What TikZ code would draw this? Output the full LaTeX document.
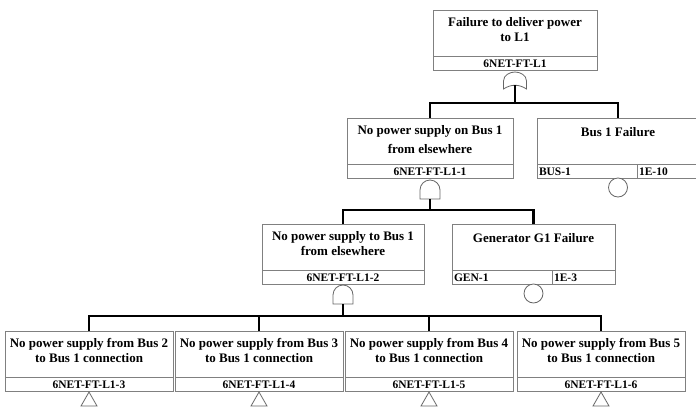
\documentclass[tikz,border=0pt]{standalone}
\usepackage{fontspec}
\setmainfont{Liberation Serif}
\usetikzlibrary{positioning}

\begin{document}
\begin{tikzpicture}[
    x=1pt, y=-1pt,
    title/.style={
        draw=gray, line width=0.9pt, fill=white,
        minimum width=#1, minimum height=46pt,
        inner sep=0pt, outer sep=0pt,
        align=center, anchor=north,
        text height=18pt, text depth=28pt,
        font=\fontsize{13}{15}\selectfont\bfseries
    },
    twoline/.style={
        text height=31pt,
        text depth=15pt
    },
    strip/.style={
        draw=gray, line width=0.9pt, fill=white,
        minimum width=#1, minimum height=14pt,
        inner sep=0pt, outer sep=0pt,
        text height=8pt, text depth=0pt,
        font=\fontsize{11.5}{13}\selectfont\bfseries
    },
    cell/.style={
        strip=0pt,
        text width=#1,
        align=left,
        inner xsep=2pt
    },
    basic/.style={
        circle,
        draw=gray!80!black,
        line width=0.8pt,
        fill=white,
        minimum size=19pt,
        inner sep=0pt,
        outer sep=0pt
    },
    gatestroke/.style={
        draw=gray!80!black,
        line width=0.8pt,
        fill=white
    },
    conn/.style={
        draw=black,
        line width=2.2pt
    },
    orgate/.pic={
        \draw[gatestroke] (-11.5,17) -- (-11.5,9)
            .. controls (-11.5,3) and (-5,0) .. (0,0)
            .. controls (5,0) and (11.5,3) .. (11.5,9) -- (11.5,17)
            .. controls (4,12) and (-4,12) .. cycle;
        \coordinate (-out) at (0,13.3);
    },
    andgate/.pic={
        \draw[gatestroke] (-10,19) -- (-10,10)
            .. controls (-10,4.5) and (-5.5,0) .. (0,0)
            .. controls (5.5,0) and (10,4.5) .. (10,10) -- (10,19) -- cycle;
        \coordinate (-out) at (0,19);
    },
    transfer/.pic={
        \draw[gatestroke] (0,0) -- (8,14) -- (-8,14) -- cycle;
    }
]
    \useasboundingbox (0,0) rectangle (696,407);

    % --- Top event ---
    \node [title=164pt, twoline] (top) at (515,10) {Failure to deliver power\\to L1};
    \node [strip=164pt, below=0pt of top] (topid) {6NET-FT-L1};

    % --- Second row ---
    \node [title=166pt, text height=35pt, text depth=11pt, font=\fontsize{13}{19}\selectfont\bfseries] (l2a) at (430,118) {No power supply on Bus 1\\from elsewhere};
    \node [strip=166pt, below=0pt of l2a] (l2aid) {6NET-FT-L1-1};

    \node [title=162pt] (bus) at (618,118) {Bus 1 Failure};
    \node [cell=96pt, below right=0pt of bus.south west] (busid) {BUS-1};
    \node [cell=58pt, right=0pt of busid] (busp) {1E-10};

    % --- Third row ---
    \node [title=162pt, twoline] (l3a) at (343,224) {No power supply to Bus 1\\from elsewhere};
    \node [strip=162pt, below=0pt of l3a] (l3aid) {6NET-FT-L1-2};

    \node [title=163pt] (gen) at (533.5,224) {Generator G1 Failure};
    \node [cell=96pt, below right=0pt of gen.south west] (genid) {GEN-1};
    \node [cell=59pt, right=0pt of genid] (genp) {1E-3};

    % --- Gates and basic events ---
    \pic (g0) at (515,72) {orgate};
    \pic (g1) at (430,180) {andgate};
    \pic (g2) at (343,285) {andgate};
    \node [basic, anchor=north] (busc) at (bus.south |- busid.south) {};
    \node [basic, anchor=north] (genc) at (gen.south |- genid.south) {};

    % --- Connections ---
    \coordinate (bar0) at (515,103);
    \coordinate (bar1) at (430,210);
    \coordinate (bar2) at (343,316);
    \draw [conn] (g0-out) -- (bar0);
    \draw [conn] (bar0) -| (l2a.north);
    \draw [conn] (bar0) -| (bus.north);
    \draw [conn] (g1-out) -- (bar1);
    \draw [conn] (bar1) -| (l3a.north);
    \draw [conn] (bar1) -| (gen.north);
    \draw [conn] (g2-out) -- (bar2);

    % --- Bottom row: transfer events ---
    \foreach \cx/\from/\id in {89/2/3, 259/3/4, 429/4/5, 601/5/6} {
        \node [title=168pt, twoline] (l4-\id) at (\cx,331) {No power supply from Bus \from\\to Bus 1 connection};
        \node [strip=168pt, below=0pt of l4-\id] (l4id-\id) {6NET-FT-L1-\id};
        \pic at (\cx,392) {transfer};
        \draw [conn] (bar2) -| (l4-\id.north);
    }

\end{tikzpicture}
\end{document}
